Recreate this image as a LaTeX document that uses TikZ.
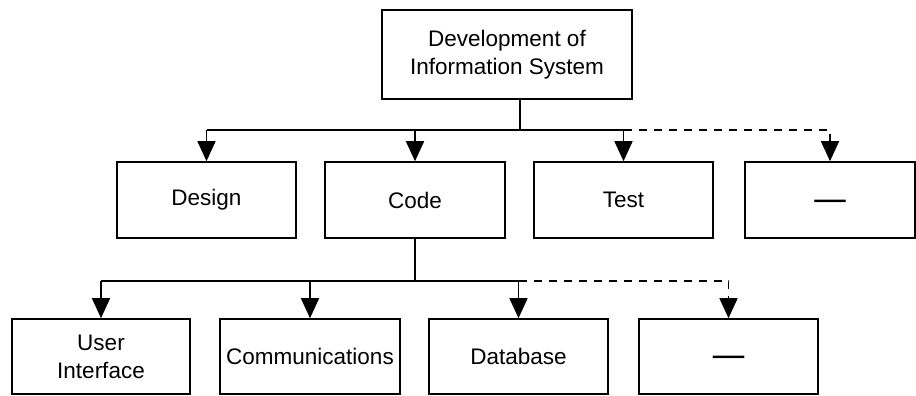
\documentclass[tikz,border=0pt]{standalone}
\usepackage{fontspec}
\setmainfont{Liberation Sans}
\usetikzlibrary{arrows.meta}
\tikzset{
  box/.style={draw, line width=1.6pt, rectangle, inner sep=0pt, align=center,
    font=\fontsize{22.5}{28}\selectfont},
  conn/.style={line width=1.6pt, -{Triangle[width=18pt,length=20pt]}},
  dconn/.style={conn, dash pattern=on 8pt off 7pt},
  bus/.style={line width=1.6pt},
}
\newcommand{\blankdash}{\raisebox{-10pt}[0pt][0pt]{\scalebox{1.4}[1.6]{—}}}
\begin{document}
\begin{tikzpicture}[x=1pt,y=-1pt]
\useasboundingbox (0,0) rectangle (916,396);
\node[box, minimum width=250pt, minimum height=89pt] (top) at (507,54.5) {Development of\\Information System};
\node[box, minimum width=179pt, minimum height=76pt] (design) at (206.5,200) {Design};
\node[box, minimum width=180pt, minimum height=76pt] (code) at (415,200) {Code};
\node[box, minimum width=179pt, minimum height=76pt] (test) at (623.5,200) {Test};
\node[box, minimum width=170pt, minimum height=76pt] (more1) at (830,200) {\blankdash};
\node[box, minimum width=178pt, minimum height=75pt] (ui) at (101,356.5) {User\\Interface};
\node[box, minimum width=180pt, minimum height=75pt] (comm) at (310,356.5) {Communications};
\node[box, minimum width=179pt, minimum height=75pt] (db) at (518.5,356.5) {Database};
\node[box, minimum width=179pt, minimum height=75pt] (more2) at (728.5,356.5) {\blankdash};
% first level
\coordinate (b1) at (520,130);
\draw[bus] (top.south -| b1) -- (b1);
\draw[bus] (design.north |- b1) -- (test.north |- b1);
\draw[conn] (design.north |- b1) -- (design.north);
\draw[conn] (code.north |- b1) -- (code.north);
\draw[conn] (test.north |- b1) -- (test.north);
\draw[dconn] (test.north |- b1) -- (more1.north |- b1) -- (more1.north);
% second level
\coordinate (b2) at (415,281);
\draw[bus] (code.south) -- (b2);
\draw[bus] (ui.north |- b2) -- (db.north |- b2);
\draw[conn] (ui.north |- b2) -- (ui.north);
\draw[conn] (comm.north |- b2) -- (comm.north);
\draw[conn] (db.north |- b2) -- (db.north);
\draw[dconn] (db.north |- b2) -- (more2.north |- b2) -- (more2.north);
\end{tikzpicture}
\end{document}
